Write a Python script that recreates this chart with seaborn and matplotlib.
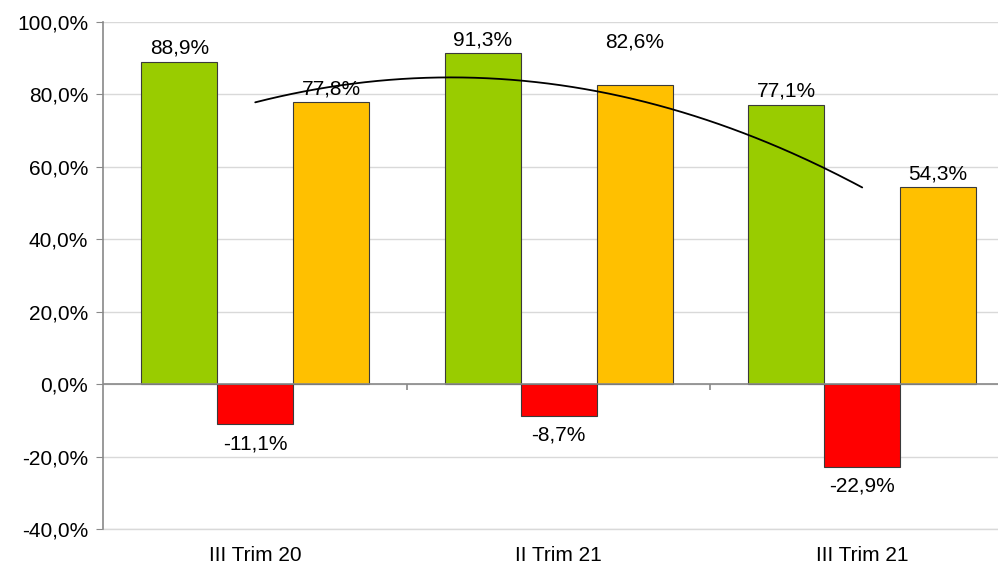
import matplotlib
matplotlib.use("Agg")
import matplotlib.pyplot as plt
import numpy as np
import pandas as pd
import seaborn as sns

# datos
trimestres = ["III Trim 20", "II Trim 21", "III Trim 21"]
series = ["Positivo", "Negativo", "Neutro"]
positivo = [88.9, 91.3, 77.1]
negativo = [-11.1, -8.7, -22.9]
neutro = [77.8, 82.6, 54.3]
colores = ["#99CC00", "#FF0000", "#FFC000"]
y_ticks = [-40, -20, 0, 20, 40, 60, 80, 100]

df = pd.DataFrame({
    "trimestre": trimestres * 3,
    "serie": [s for s in series for _ in trimestres],
    "valor": positivo + negativo + neutro,
})

sns.set_style("white")
plt.rcParams["font.family"] = ["Liberation Sans", "DejaVu Sans"]
plt.rcParams["text.color"] = "black"
plt.rcParams["xtick.color"] = "black"
plt.rcParams["ytick.color"] = "black"

fig = plt.figure(figsize=(9.98, 5.64), dpi=100)
ax = fig.add_axes([0.1037, 0.0621, 0.9123, 0.899])

sns.barplot(
    data=df, x="trimestre", y="valor", hue="serie", order=trimestres,
    hue_order=series, palette=colores, saturation=1, width=0.75,
    edgecolor="#3a3a3a", linewidth=0.8, legend=False, ax=ax, zorder=3,
)

# etiquetas de valor (la de 82,6% esta desplazada hacia arriba en el original)
for cont in ax.containers:
    for bar in cont:
        h = bar.get_height()
        texto = f"{h:.1f}%".replace(".", ",")
        x = bar.get_x() + bar.get_width() / 2
        extra = 21 if texto == "82,6%" else 0
        if h >= 0:
            ax.annotate(texto, (x, h), xytext=(0, 3 + extra), textcoords="offset points",
                        ha="center", va="bottom", fontsize=15, color="black")
        else:
            ax.annotate(texto, (x, h), xytext=(0, -7), textcoords="offset points",
                        ha="center", va="top", fontsize=15, color="black")

# linea de tendencia polinomica (serie amarilla)
xs = np.arange(len(trimestres))
coef = np.polyfit(xs, neutro, 2)
x_line = np.linspace(xs.min(), xs.max(), 200)
ax.plot(x_line, np.polyval(coef, x_line), color="black", linewidth=1.3, zorder=4)

ax.set_ylim(-40, 100)
ax.set_xlim(-0.5, 2.5)
ax.set_yticks(y_ticks)
ax.set_yticklabels([f"{v:.1f}%".replace(".", ",") for v in y_ticks], fontsize=15)
ax.tick_params(axis="y", length=5, color="#898989", left=True, pad=6)
ax.tick_params(axis="x", length=0, pad=12, labelsize=15)
ax.set_xlabel("")
ax.set_ylabel("")
ax.grid(axis="y", color="#D9D9D9", linewidth=1, zorder=0)
ax.set_axisbelow(True)

for s in ["top", "right"]:
    ax.spines[s].set_visible(False)
ax.spines["bottom"].set_color("#D9D9D9")
ax.spines["bottom"].set_linewidth(1)
ax.spines["left"].set_color("#898989")
ax.spines["left"].set_linewidth(1.2)
ax.spines["left"].set_zorder(6)

ax.axhline(0, color="#898989", linewidth=1.2, zorder=5)
ax.vlines([0.5, 1.5], -1.6, 0, color="#898989", linewidth=1.2, zorder=5)

fig.savefig("out.png", dpi=100)
